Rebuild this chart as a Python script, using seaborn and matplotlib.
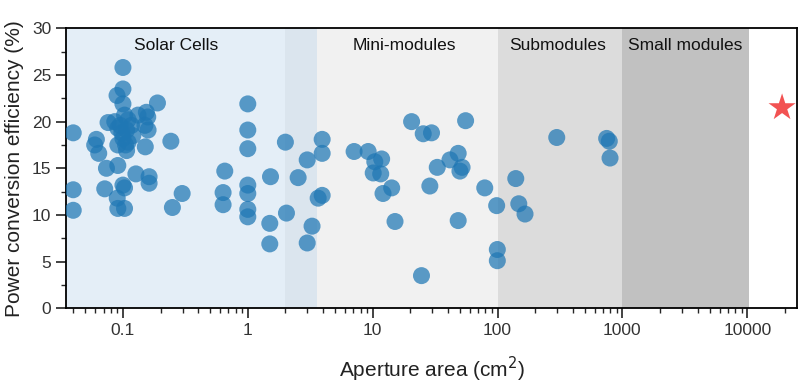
import numpy as np
import pandas as pd
import seaborn as sns
import matplotlib.pyplot as plt
from matplotlib.ticker import LogLocator, MultipleLocator, FixedLocator, FixedFormatter

# 数据：孔径面积 (cm2) 与 光电转换效率 (%)
area = [0.10, 0.10, 0.0897, 0.10, 0.189, 0.154, 0.132, 0.158, 0.076, 0.086,
        0.103, 0.091, 0.107, 0.117, 0.150, 0.159, 0.04, 0.0613, 0.0594, 0.064,
        0.091, 0.107, 0.10, 0.110, 0.151, 0.242, 0.0738, 0.091, 0.127, 0.162,
        0.162, 0.10, 0.103, 0.0715, 0.04, 0.298, 0.090, 0.04, 0.091, 0.103,
        0.249, 0.095, 0.110, 0.098, 0.120, 0.105,
        1.0, 1.0, 1.0, 2.0, 3.94, 3.94, 2.99, 0.654, 1.52, 2.53,
        0.634, 0.634, 1.0, 1.0, 1.0, 1.0, 2.04, 1.50, 1.50, 3.27,
        2.99, 3.94, 3.66,
        20.5, 25.4, 29.6, 55.5, 7.1, 9.2, 11.8, 10.4, 10.1, 11.6,
        12.1, 14.2, 15.1, 24.6, 32.9, 28.7, 41.6, 48.4, 52.0, 50.0,
        48.4, 79.0, 98.4, 99.6, 99.6, 140, 298, 148, 166, 748, 785, 796]
pce = [25.8, 23.5, 22.8, 21.9, 22.0, 21.0, 20.7, 20.5, 19.9, 20.0,
       20.7, 19.3, 19.1, 19.6, 19.6, 19.1, 18.8, 18.1, 17.5, 16.6,
       17.5, 16.9, 18.2, 17.8, 17.3, 17.9, 15.0, 15.3, 14.4, 14.1,
       13.4, 13.2, 12.9, 12.8, 12.7, 12.3, 11.8, 10.5, 10.7, 10.7,
       10.8, 19.6, 20.2, 18.8, 18.5, 17.5,
       21.9, 19.1, 17.1, 17.8, 18.1, 16.6, 15.9, 14.7, 14.1, 14.0,
       12.4, 11.1, 13.2, 12.3, 10.6, 9.8, 10.2, 9.1, 6.9, 8.8,
       7.0, 12.1, 11.8,
       20.0, 18.7, 18.8, 20.1, 16.8, 16.8, 16.0, 15.7, 14.5, 14.4,
       12.3, 12.9, 9.3, 3.5, 15.1, 13.1, 15.9, 16.6, 15.1, 14.7,
       9.4, 12.9, 11.0, 6.3, 5.1, 13.9, 18.3, 11.2, 10.1, 18.2, 17.9, 16.1]

star_area = [19000]
star_pce = [21.5]

# 区域划分
region_names = ["Solar Cells", "Mini-modules", "Submodules", "Small modules"]
region_label_x = [0.265, 18.1, 305, 3200]
spans = [(0.01, 2.0, '#e4eef7'), (2.0, 3.6, '#dbe5ee'), (3.6, 100, '#f1f1f1'),
         (100, 1000, '#dcdcdc'), (1000, 10300, '#c1c1c1')]

df = pd.DataFrame({"area": area, "pce": pce})

sns.set_theme(style="white")
plt.rcParams['font.family'] = ['Liberation Sans', 'DejaVu Sans']

fig = plt.figure(figsize=(8, 3.86), dpi=100)
ax = fig.add_axes([0.0825, 0.2013, 0.9137, 0.7254])

for x0, x1, c in spans:
    ax.axvspan(x0, x1, color=c, lw=0, zorder=0)

sns.scatterplot(data=df, x="area", y="pce", ax=ax, color='#1f77b4', alpha=0.72,
                s=150, edgecolor='none', zorder=3, legend=False)
sns.scatterplot(x=star_area, y=star_pce, ax=ax, marker='*', color='#f25252',
                s=420, edgecolor='none', zorder=4, legend=False)

for name, xpos in zip(region_names, region_label_x):
    ax.text(xpos, 28.2, name, ha='center', va='center', fontsize=12.5, color='#111111')

ax.set_xscale('log')
ax.set_xlim(0.035, 25000)
ax.set_ylim(0, 30)

ax.xaxis.set_major_locator(FixedLocator([0.1, 1, 10, 100, 1000, 10000]))
ax.xaxis.set_major_formatter(FixedFormatter(['0.1', '1', '10', '100', '1000', '10000']))
ax.xaxis.set_minor_locator(LogLocator(base=10, subs=np.arange(2, 10)))
ax.yaxis.set_major_locator(MultipleLocator(5))
ax.yaxis.set_minor_locator(MultipleLocator(2.5))

ax.tick_params(axis='both', which='major', direction='out', length=7, width=1.2,
               colors='#222222', labelsize=12.5, bottom=True, left=True)
ax.tick_params(axis='both', which='minor', direction='out', length=3.5, width=1.0,
               bottom=True, left=True)
for lab in ax.get_xticklabels() + ax.get_yticklabels():
    lab.set_color('#333333')

for sp in ax.spines.values():
    sp.set_color('black')
    sp.set_linewidth(1.3)

ax.set_xlabel("Aperture area (cm$^2$)", fontsize=15, color='#222222', labelpad=12)
ax.set_ylabel("Power conversion efficiency (%)", fontsize=15, color='#222222', labelpad=6)

fig.savefig("out.png", dpi=100)
